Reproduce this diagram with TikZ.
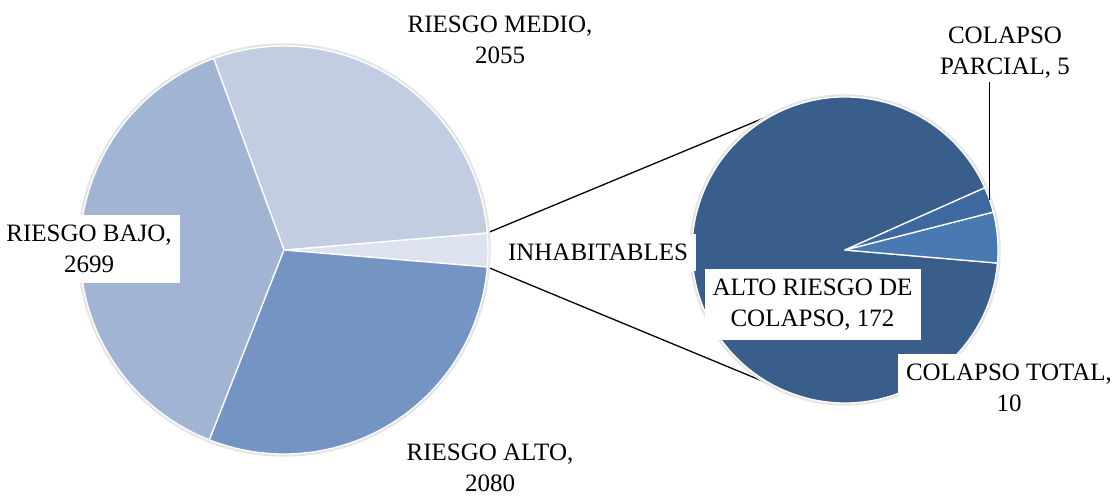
\documentclass[tikz,border=0pt]{standalone}
\usepackage{fontspec}
\setmainfont{Liberation Serif}
\usetikzlibrary{positioning}
\definecolor{medio}{HTML}{C2CDE2}
\definecolor{bajo}{HTML}{A2B4D4}
\definecolor{alto}{HTML}{7494C4}
\definecolor{inhab}{HTML}{DCE2EE}
\definecolor{altorc}{HTML}{3A5E8C}
\definecolor{parcial}{HTML}{3E68A0}
\definecolor{total}{HTML}{4979B1}
% pie slice: center, radius, start, end, colour
\newcommand{\pieslice}[5]{%
  \filldraw[fill=#5,draw=white,line width=1.3pt,line join=round]
    (#1) -- ([shift={(#3:#2)}]#1) arc[start angle=#3,end angle=#4,radius=#2] -- cycle;}

\begin{document}
\begin{tikzpicture}[x=1pt,y=1pt,
  lbl/.style={font=\fontsize{25}{31}\selectfont,align=center,text=black},
  box/.style={lbl,fill=white,inner xsep=8pt,inner ysep=10pt},
  conn/.style={black,line width=1.3pt}]
  \useasboundingbox (0,0) rectangle (1116,498);
  \coordinate (lc) at (284,248);
  \coordinate (rc) at (845,248);
  % connectors between the two pies
  \coordinate (l1) at ([shift={(4.794:204)}]lc);
  \coordinate (l2) at ([shift={(-4.794:204)}]lc);
  \coordinate (r1) at ([shift={(113.6:153)}]rc);
  \coordinate (r2) at ([shift={(243.8:153)}]rc);
  \draw[conn] (l1) -- (r1);
  \draw[conn] (l2) -- (r2);
  % left pie
  \draw[black!10,line width=2.5pt] (lc) circle (205.5);
  \pieslice{lc}{204}{-4.794}{4.794}{inhab}
  \pieslice{lc}{204}{4.794}{110.16}{medio}
  \pieslice{lc}{204}{110.16}{248.55}{bajo}
  \pieslice{lc}{204}{248.55}{355.206}{alto}
  % right pie
  \draw[black!10,line width=2.5pt] (rc) circle (154.5);
  \pieslice{rc}{153}{23.98}{355.1}{altorc}
  \pieslice{rc}{153}{-4.9}{14.35}{total}
  \pieslice{rc}{153}{14.35}{23.98}{parcial}
  % labels
  \node[lbl] (medio) at (500,458.5) {RIESGO MEDIO,\\2055};
  \node[box] (bajo) at (89,249) {RIESGO BAJO,\\2699};
  \node[lbl] (alto) at (490,30.5) {RIESGO ALTO,\\2080};
  \node[box,inner ysep=10pt] (inhab) at (598,245.5) {INHABITABLES};
  \node[box] (altorc) at (812.5,193.5) {ALTO RIESGO DE\\COLAPSO, 172};
  \node[box] (total) at (1009,110.5) {COLAPSO TOTAL,\\10};
  \node[lbl] (parcial) at (1005,445.5) {COLAPSO\\PARCIAL, 5};
  \coordinate (pe) at ([shift={(19.2:153)}]rc);
  \draw[conn] (parcial.south -| pe) -- (pe);
\end{tikzpicture}
\end{document}
